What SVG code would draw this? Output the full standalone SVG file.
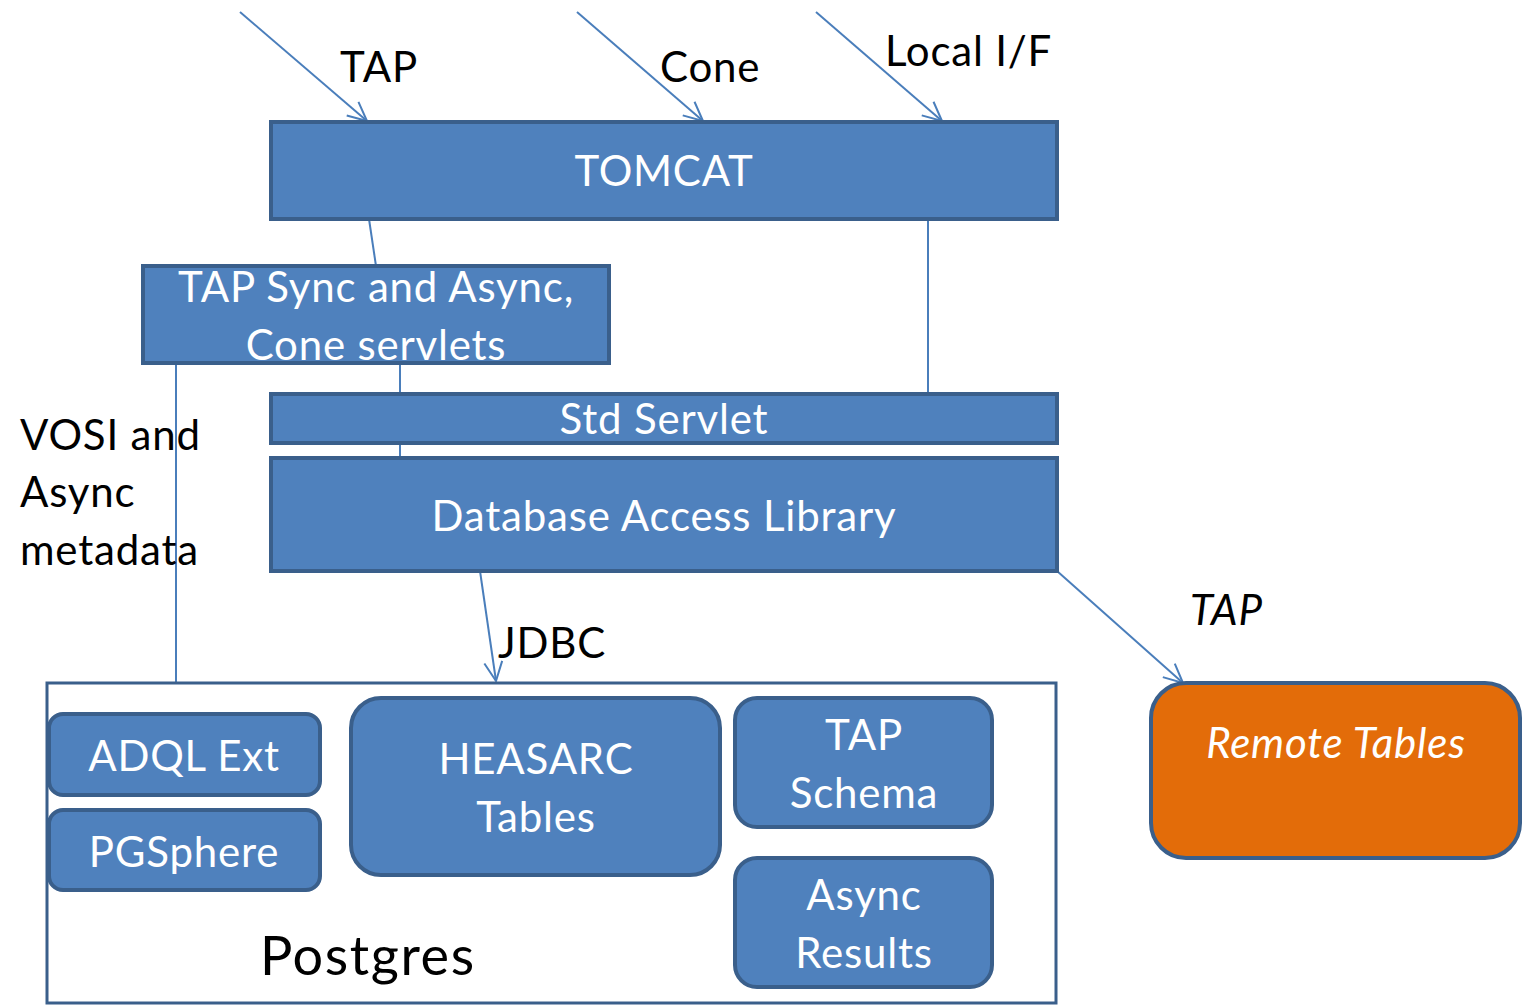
<svg xmlns="http://www.w3.org/2000/svg" width="1526" height="1008" viewBox="0 0 1526 1008">
<style>
.box{fill:#4F81BD;stroke:#3A5F8B;stroke-width:4}
.pg{fill:#fff;stroke:#3A5F8B;stroke-width:3}
.rem{fill:#E36C09;stroke:#3A5F8B;stroke-width:4}
.ln{stroke:#4A7EBB;stroke-width:2;fill:none}
text{font-family:Lato,"Open Sans","Liberation Sans",sans-serif;font-size:42px;letter-spacing:0.8px}
.w{fill:#fff;text-anchor:middle}
.k{fill:#000}
.i{font-style:italic}
</style>
<defs>
<marker id="arr" viewBox="0 0 24 24" refX="22" refY="12" markerWidth="24" markerHeight="24" markerUnits="userSpaceOnUse" orient="auto">
<path d="M3,3 L22,12 L3,21" fill="none" stroke="#4A7EBB" stroke-width="2"/>
</marker>
</defs>
<g id="connectors">
<line class="ln" x1="240" y1="12" x2="367" y2="121" marker-end="url(#arr)"/>
<line class="ln" x1="577" y1="12" x2="703" y2="121" marker-end="url(#arr)"/>
<line class="ln" x1="816" y1="12" x2="942" y2="121" marker-end="url(#arr)"/>
<line class="ln" x1="369" y1="219" x2="376" y2="266"/>
<line class="ln" x1="928" y1="219" x2="928" y2="394"/>
<line class="ln" x1="400" y1="363" x2="400" y2="394"/>
<line class="ln" x1="400" y1="443" x2="400" y2="458"/>
<line class="ln" x1="176" y1="363" x2="176" y2="683"/>
<line class="ln" x1="480" y1="571" x2="496" y2="681" marker-end="url(#arr)"/>
<line class="ln" x1="1057" y1="571" x2="1183" y2="683" marker-end="url(#arr)"/>
</g>
<g id="labels">
<text class="k" x="340" y="82">TAP</text>
<text class="k" x="660" y="82">Cone</text>
<text class="k" x="885" y="66">Local I/F</text>
<text class="k" x="20" y="450">VOSI and</text>
<text class="k" x="20" y="507">Async</text>
<text class="k" x="20" y="565">metadata</text>
<text class="k" x="498" y="658">JDBC</text>
<text class="k i" x="1190" y="625">TAP</text>
</g>
<g id="tomcat"><rect class="box" x="271" y="122" width="786" height="97"/><text class="w" x="664" y="186">TOMCAT</text></g>
<g id="tapsync"><rect class="box" x="143" y="266" width="466" height="97"/><text class="w" x="376" y="302">TAP Sync and Async,</text><text class="w" x="376" y="360">Cone servlets</text></g>
<g id="stdservlet"><rect class="box" x="271" y="394" width="786" height="49"/><text class="w" x="664" y="434">Std Servlet</text></g>
<g id="dal"><rect class="box" x="271" y="458" width="786" height="113"/><text class="w" x="664" y="531">Database Access Library</text></g>
<g id="postgres"><rect class="pg" x="47" y="683" width="1009" height="320"/><text class="k" x="260" y="975" style="font-size:54px;letter-spacing:1.6px">Postgres</text></g>
<g id="adql"><rect class="box" x="49" y="714" width="271" height="81" rx="14"/><text class="w" x="184" y="771">ADQL Ext</text></g>
<g id="pgsphere"><rect class="box" x="49" y="810" width="271" height="80" rx="14"/><text class="w" x="184" y="867">PGSphere</text></g>
<g id="heasarc"><rect class="box" x="351" y="698" width="369" height="177" rx="30"/><text class="w" x="536" y="774">HEASARC</text><text class="w" x="536" y="832">Tables</text></g>
<g id="tapschema"><rect class="box" x="735" y="698" width="257" height="129" rx="22"/><text class="w" x="864" y="750">TAP</text><text class="w" x="864" y="808">Schema</text></g>
<g id="async"><rect class="box" x="735" y="858" width="257" height="129" rx="22"/><text class="w" x="864" y="910">Async</text><text class="w" x="864" y="968">Results</text></g>
<g id="remote"><rect class="rem" x="1151" y="683" width="369" height="175" rx="35"/><text class="w i" x="1336" y="758">Remote Tables</text></g>
</svg>
